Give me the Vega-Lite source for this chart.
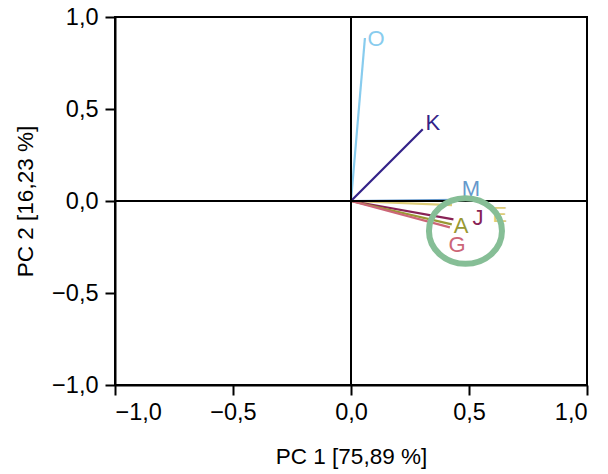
{
  "$schema": "https://vega.github.io/schema/vega-lite/v6.json",
  "width": 472,
  "height": 368,
  "autosize": "none",
  "padding": {"left": 115, "top": 17, "right": 21, "bottom": 89},
  "background": "white",
  "config": {
    "font": "Liberation Sans",
    "view": {"stroke": "black", "strokeWidth": 2},
    "axis": {
      "grid": false,
      "domainColor": "black",
      "domainWidth": 2,
      "tickColor": "black",
      "tickWidth": 2,
      "tickSize": 10,
      "labelFontSize": 23.5,
      "labelColor": "black",
      "labelFont": "Liberation Sans",
      "titleFont": "Liberation Sans",
      "titleFontSize": 22.5,
      "titleFontWeight": "normal",
      "titleColor": "black"
    }
  },
  "datasets": {
    "vectors": [
      {"name": "O", "x": 0.059, "y": 0.886, "lx": 0.106, "ly": 0.88},
      {"name": "K", "x": 0.304, "y": 0.39, "lx": 0.347, "ly": 0.424},
      {"name": "M", "x": 0.45, "y": 0.006, "lx": 0.508, "ly": 0.065},
      {"name": "E", "x": 0.428, "y": -0.022, "lx": 0.631, "ly": -0.076},
      {"name": "J", "x": 0.434, "y": -0.1, "lx": 0.538, "ly": -0.092},
      {"name": "A", "x": 0.427, "y": -0.127, "lx": 0.466, "ly": -0.136},
      {"name": "G", "x": 0.419, "y": -0.143, "lx": 0.449, "ly": -0.239}
    ],
    "highlight": [{"cx": 0.485, "cy": -0.163}]
  },
  "layer": [
    {
      "data": {"name": "vectors"},
      "mark": {"type": "rule", "strokeWidth": 2.2},
      "encoding": {
        "x": {"field": "x", "type": "quantitative", "scale": {"domain": [-1, 1], "nice": false, "zero": false},
              "axis": {"title": "PC 1 [75,89 %]", "labelPadding": 5, "titlePadding": 22,
                       "values": [-1, -0.5, 0, 0.5, 1],
                       "labelExpr": "replace(format(datum.value, '.1f'), '.', ',')"}},
        "y": {"field": "y", "type": "quantitative", "scale": {"domain": [-1, 1], "nice": false, "zero": false},
              "axis": {"title": "PC 2 [16,23 %]", "labelPadding": 7, "titlePadding": 14,
                       "values": [-1, -0.5, 0, 0.5, 1],
                       "labelExpr": "replace(format(datum.value, '.1f'), '.', ',')"}},
        "x2": {"datum": 0},
        "y2": {"datum": 0},
        "color": {
          "field": "name", "type": "nominal", "legend": null,
          "scale": {"domain": ["O", "K", "M", "E", "J", "A", "G"],
                    "range": ["#88ccee", "#332288", "#6699cc", "#ddcc77", "#882255", "#999933", "#cc6677"]}
        }
      }
    },
    {
      "data": {"values": [{"v": 0}]},
      "mark": {"type": "rule", "color": "black", "strokeWidth": 2},
      "encoding": {"x": {"field": "v", "type": "quantitative"}}
    },
    {
      "data": {"values": [{"v": 0}]},
      "mark": {"type": "rule", "color": "black", "strokeWidth": 2},
      "encoding": {"y": {"field": "v", "type": "quantitative"}}
    },
    {
      "data": {"name": "vectors"},
      "mark": {"type": "text", "fontSize": 22, "align": "center", "baseline": "middle", "font": "Liberation Sans"},
      "encoding": {
        "x": {"field": "lx", "type": "quantitative"},
        "y": {"field": "ly", "type": "quantitative"},
        "text": {"field": "name"},
        "color": {"field": "name", "type": "nominal", "legend": null}
      }
    },
    {
      "data": {"name": "highlight"},
      "mark": {"type": "point", "filled": false, "color": "#86be96", "strokeWidth": 6, "opacity": 1,
               "shape": "M -1 0 A 1 0.9 0 1 0 1 0 A 1 0.9 0 1 0 -1 0 Z", "size": 5329},
      "encoding": {
        "x": {"field": "cx", "type": "quantitative"},
        "y": {"field": "cy", "type": "quantitative"}
      }
    }
  ]
}
